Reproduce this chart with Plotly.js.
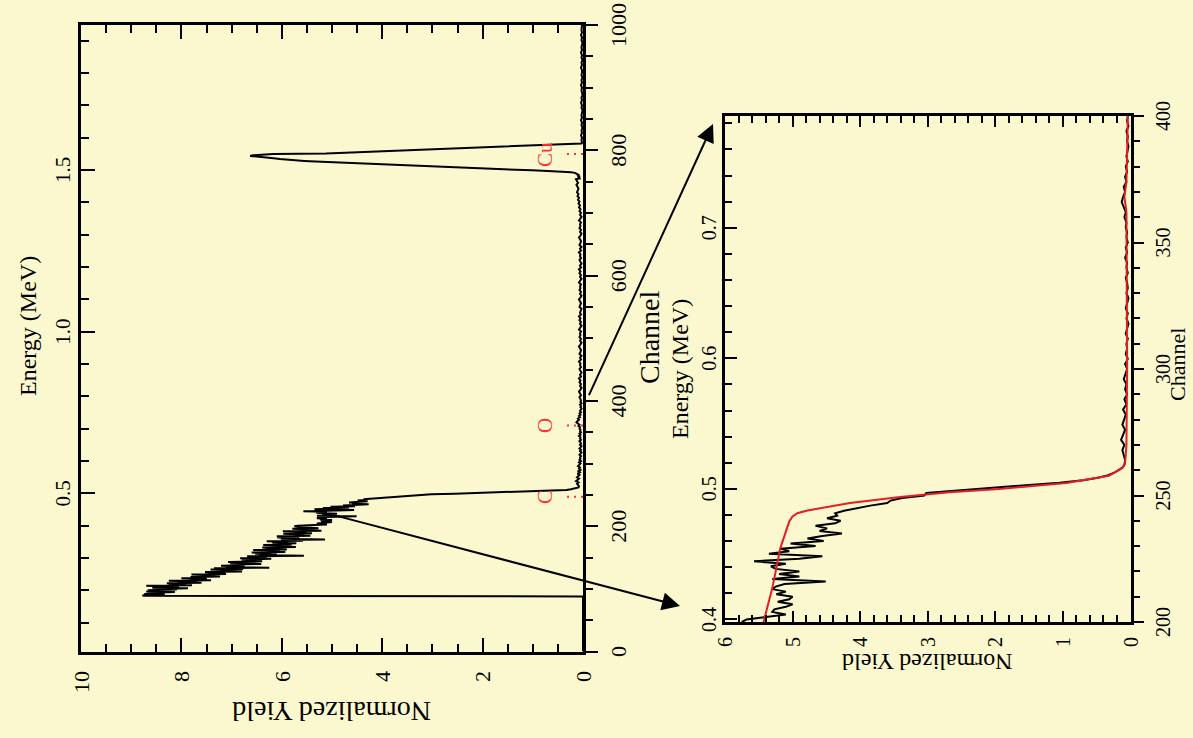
<!DOCTYPE html>
<html>
<head>
<meta charset="utf-8">
<script src="https://cdn.plot.ly/plotly-3.0.1.min.js"></script>
<style>
html, body { margin: 0; padding: 0; width: 1193px; height: 738px; overflow: hidden; background: #FBF8CF; }
#chart { position: absolute; left: 0; top: 0; width: 738px; height: 1193px;
         transform-origin: 0 0; transform: translate(0px, 738px) rotate(-90deg); }
</style>
</head>
<body>
<div id="chart"></div>
<script>
// ---------------- DATA ----------------
// Spectrum: normalized yield per channel
const lowChannels = [0, 88];
const lowYield = [0, 0];

// per-channel yields from channel 89 to 262
const mainStartCh = 89;
const mainYield = [
  8.77, 8.76, 8.33, 8.74, 8.36, 8.57, 8.13, 8.70, 8.31, 8.67,
  8.09, 8.40, 7.87, 8.58, 8.05, 8.21, 8.70, 7.79, 8.26, 7.92,
  8.29, 7.60, 8.07, 7.68, 8.25, 7.41, 7.83, 7.49, 8.00, 7.51,
  7.82, 7.23, 7.63, 7.44, 7.80, 7.11, 7.52, 7.13, 7.53, 6.79,
  7.25, 7.06, 7.42, 6.77, 7.35, 6.25, 7.12, 6.74, 7.21, 6.78,
  6.90, 6.41, 7.03, 6.60, 7.07, 6.39, 6.76, 6.58, 6.80, 6.21,
  6.83, 6.30, 6.52, 6.69, 5.56, 6.47, 6.10, 6.53, 6.21, 6.60,
  5.93, 6.31, 6.04, 6.57, 5.90, 6.33, 6.11, 6.39, 5.72, 6.21,
  5.94, 6.37, 5.80, 6.08, 5.71, 6.19, 5.87, 6.30, 5.58, 6.01,
  5.14, 6.02, 5.65, 6.09, 5.77, 6.10, 5.43, 5.81, 5.54, 5.97,
  5.40, 5.78, 5.51, 5.98, 5.21, 5.64, 5.46, 5.79, 5.27, 5.60,
  5.62,
  5.75, 5.68, 5.36, 5.10, 5.30, 5.27, 5.10, 5.00, 5.22, 5.05,
  5.00, 5.24, 5.10, 5.30, 5.25, 5.12, 4.51, 5.30, 4.90, 5.20,
  4.90, 5.25, 5.32, 5.10, 5.57, 4.90, 4.56, 5.35, 5.05, 5.18,
  4.66, 5.03, 4.54, 4.78, 4.56, 4.27, 4.60, 4.49, 4.66, 4.37,
  4.29, 4.49, 4.34, 4.37, 4.24, 4.05, 3.85, 3.60, 3.55, 3.38,
  3.05, 3.02, 2.55, 2.15, 1.60, 1.05, 0.70, 0.48, 0.33, 0.24,
  0.17, 0.12, 0.09
];

// background after the C/O edges, channels 264..400 every 2
const bgAStartCh = 264, bgAStep = 2;
const bgAYield = [
  0.08, 0.10, 0.12, 0.09, 0.14, 0.11, 0.08, 0.12, 0.10, 0.07,
  0.11, 0.06, 0.09, 0.05, 0.08, 0.06, 0.10, 0.07, 0.05, 0.08,
  0.04, 0.07, 0.05, 0.06, 0.04, 0.07, 0.05, 0.03, 0.06, 0.04,
  0.07, 0.05, 0.03, 0.06, 0.04, 0.05, 0.07, 0.04, 0.06, 0.05,
  0.08, 0.05, 0.07, 0.04, 0.06, 0.05, 0.07, 0.06, 0.09, 0.07,
  0.10, 0.13, 0.11, 0.08, 0.10, 0.06, 0.08, 0.05, 0.07, 0.04,
  0.06, 0.05, 0.03, 0.05, 0.04, 0.06, 0.03, 0.05, 0.04
];

// background channels 403..754 every 3
const bgBStartCh = 403, bgBStep = 3;
const bgBYield = [
  0.05, 0.07, 0.04, 0.06, 0.08, 0.05, 0.03, 0.06, 0.04, 0.07,
  0.05, 0.08, 0.04, 0.06, 0.03, 0.05, 0.07, 0.04, 0.06, 0.05,
  0.08, 0.04, 0.06, 0.03, 0.07, 0.05, 0.04, 0.06, 0.08, 0.05,
  0.03, 0.06, 0.04, 0.07, 0.05, 0.06, 0.04, 0.08, 0.05, 0.03,
  0.06, 0.04, 0.07, 0.05, 0.08, 0.04, 0.06, 0.05, 0.03, 0.07,
  0.05, 0.04, 0.06, 0.08, 0.05, 0.03, 0.06, 0.04, 0.07, 0.05,
  0.06, 0.04, 0.08, 0.05, 0.03, 0.06, 0.04, 0.07, 0.05, 0.08,
  0.04, 0.06, 0.03, 0.05, 0.07, 0.04, 0.06, 0.05, 0.08, 0.04,
  0.06, 0.03, 0.07, 0.05, 0.04, 0.06, 0.08, 0.05, 0.03, 0.06,
  0.04, 0.07, 0.05, 0.06, 0.04, 0.08, 0.05, 0.03, 0.06, 0.04,
  0.07, 0.05, 0.08, 0.06, 0.09, 0.07, 0.10, 0.08, 0.11, 0.09,
  0.12, 0.10, 0.09, 0.11, 0.13, 0.10, 0.12, 0.14
];

// Cu surface peak, channels 755..812
const cuStartCh = 755;
const cuYield = [
  0.07, 0.08, 0.06, 0.09, 0.08, 0.10, 0.09, 0.12, 0.13, 0.16,
  0.24, 0.39, 0.70, 1.02, 1.35, 1.66, 1.98, 2.30, 2.62, 2.95,
  3.31, 3.62, 3.93, 4.25, 4.55, 4.86, 5.10, 5.33, 5.55, 5.78,
  5.93, 6.04, 6.12, 6.25, 6.38, 6.50, 6.63, 6.58, 6.40, 6.17,
  5.12, 4.78, 4.45, 4.12, 3.78, 3.45, 3.12, 2.78, 2.45, 2.10,
  1.75, 1.42, 1.07, 0.72, 0.38, 0.06, 0.03, 0.02
];

// tail channels 816..1000 every 4
const tailStartCh = 816, tailStep = 4;
const tailYield = [
  0.03, 0.02, 0.04, 0.02, 0.03, 0.01, 0.03, 0.02, 0.04, 0.02,
  0.03, 0.02, 0.01, 0.03, 0.02, 0.04, 0.02, 0.03, 0.01, 0.02,
  0.03, 0.02, 0.04, 0.02, 0.03, 0.01, 0.03, 0.02, 0.02, 0.04,
  0.02, 0.03, 0.01, 0.03, 0.02, 0.04, 0.02, 0.03, 0.02, 0.01,
  0.03, 0.02, 0.04, 0.02, 0.03, 0.02, 0.02
];

// simulated fit (red) shown in the zoomed panel
const fitChannels = [200, 213.4, 229.3, 239.7, 241.7, 243.0, 244.1, 245.0, 247.0, 249.4,
                     251.3, 252.6, 254.9, 257.8, 260.9, 262.9, 270, 300, 340, 362, 368, 374, 385, 400];
const fitYield    = [5.43, 5.30, 5.18, 5.05, 5.00, 4.93, 4.78, 4.59, 4.15, 3.41,
                     2.68, 1.94, 0.95, 0.32, 0.12, 0.08, 0.06, 0.05, 0.05, 0.06, 0.09, 0.06, 0.05, 0.04];

// element surface edges
const elementNames = ['Cu', 'O', 'C'];
const elementChannels = [794, 361, 247];
const elementMarkYield = 0.42;   // length of dotted marker (yield units)
const elementLabelYield = 0.75;

// energy calibration (MeV) : E = E200 + (ch - 200) * slope
const energyAt200 = 0.398;
const energyPerChannel = 0.001938;
const energyOf = ch => energyAt200 + (ch - 200) * energyPerChannel;

// ---------------- BUILD ----------------
function seg(start, step, vals) { return vals.map((v, i) => start + i * step); }
const specCh = [].concat(lowChannels, seg(mainStartCh, 1, mainYield), seg(bgAStartCh, bgAStep, bgAYield),
                         seg(bgBStartCh, bgBStep, bgBYield), seg(cuStartCh, 1, cuYield), seg(tailStartCh, tailStep, tailYield));
const specY = [].concat(lowYield, mainYield, bgAYield, bgBYield, cuYield, tailYield);

const FONT = '"Liberation Serif", "Times New Roman", Times, serif';
const BLACK = '#000000';
const RED = '#e41e26';

const traces = [];
traces.push({ x: specCh, y: specY, xaxis: 'x', yaxis: 'y', type: 'scatter', mode: 'lines',
              line: { color: BLACK, width: 2 }, hoverinfo: 'skip' });
elementChannels.forEach((c, i) => {
  traces.push({ x: [c, c], y: [0, elementMarkYield], xaxis: 'x', yaxis: 'y', type: 'scatter', mode: 'lines',
                line: { color: '#ff3030', width: 2, dash: '2px,5px' }, hoverinfo: 'skip' });
});
traces.push({ x: specCh, y: specY, xaxis: 'x3', yaxis: 'y3', type: 'scatter', mode: 'lines',
              line: { color: BLACK, width: 2 }, hoverinfo: 'skip' });
traces.push({ x: fitChannels, y: fitYield, xaxis: 'x3', yaxis: 'y3', type: 'scatter', mode: 'lines',
              line: { color: RED, width: 2 }, hoverinfo: 'skip' });
// invisible carriers for energy axes
traces.push({ x: [energyOf(0), energyOf(1000)], y: [0, 0], xaxis: 'x2', yaxis: 'y', type: 'scatter',
              mode: 'lines', line: { width: 0 }, opacity: 0, hoverinfo: 'skip' });
traces.push({ x: [energyOf(200), energyOf(400)], y: [0, 0], xaxis: 'x4', yaxis: 'y3', type: 'scatter',
              mode: 'lines', line: { width: 0 }, opacity: 0, hoverinfo: 'skip' });

// Layout (drawn upright, page then rotated by 90 degrees counter-clockwise)
const W = 738, H = 1193;
const base = { showline: true, linecolor: BLACK, linewidth: 3, showgrid: false, zeroline: false,
               tickcolor: BLACK, tickwidth: 2, automargin: false, fixedrange: true, tickangle: 0 };
function ax(extra) { return Object.assign({}, base, extra); }
function minor(ticks, dtick, len) { return { ticks: ticks, dtick: dtick, ticklen: len, tickwidth: 2, tickcolor: BLACK, showgrid: false }; }

const mainX = [86.4 / W, 713 / W];
const mainY = [1 - 583 / H, 1 - 81 / H];
const insX = [116 / W, 622 / W];
const insY = [1 - 1130.5 / H, 1 - 725 / H];

const layout = {
  width: W, height: H,
  margin: { l: 0, r: 0, t: 0, b: 0, pad: 0 },
  paper_bgcolor: '#FBF8CF', plot_bgcolor: '#FBF8CF',
  showlegend: false, hovermode: false,
  font: { family: FONT, color: BLACK },
  xaxis: ax({ domain: mainX, range: [0, 1000], anchor: 'y', side: 'bottom', mirror: true,
              ticks: 'outside', ticklen: 12, dtick: 200, tick0: 0, minor: minor('outside', 50, 7),
              tickfont: { family: FONT, size: 22, color: BLACK }, ticklabelstandoff: 2 }),
  xaxis2: ax({ overlaying: 'x', anchor: 'y', side: 'top', showline: false,
               range: [energyOf(0), energyOf(1000)], ticks: 'inside', ticklen: 14, dtick: 0.5, tick0: 0,
               tickformat: '.1f', minor: minor('inside', 0.1, 8),
               tickfont: { family: FONT, size: 21, color: BLACK }, ticklabelstandoff: 6 }),
  yaxis: ax({ domain: mainY, range: [0, 10], anchor: 'x', side: 'left', mirror: 'ticks',
              ticks: 'inside', ticklen: 14, dtick: 2, tick0: 0, minor: minor('inside', 0.5, 8),
              tickfont: { family: FONT, size: 22, color: BLACK }, ticklabelstandoff: 12 }),
  xaxis3: ax({ domain: insX, range: [200, 400], anchor: 'y3', side: 'bottom', mirror: true,
               ticks: 'outside', ticklen: 10, dtick: 50, tick0: 0, minor: minor('outside', 10, 6),
               tickfont: { family: FONT, size: 20, color: BLACK }, ticklabelstandoff: 2 }),
  xaxis4: ax({ overlaying: 'x3', anchor: 'y3', side: 'top', showline: false,
               range: [energyOf(200), energyOf(400)], ticks: 'inside', ticklen: 12, dtick: 0.1, tick0: 0,
               tickformat: '.1f', minor: minor('inside', 0.02, 7),
               tickfont: { family: FONT, size: 20, color: BLACK }, ticklabelstandoff: 4 }),
  yaxis3: ax({ domain: insY, range: [0, 6], anchor: 'x3', side: 'left', mirror: 'ticks',
               ticks: 'inside', ticklen: 11, dtick: 1, tick0: 0, minor: minor('inside', 0.2, 7),
               tickfont: { family: FONT, size: 20, color: BLACK }, ticklabelstandoff: 8 }),
  annotations: []
};

function title(text, px, py, size, angle) {
  layout.annotations.push({ text: text, xref: 'paper', yref: 'paper', x: px / W, y: 1 - py / H,
    xanchor: 'center', yanchor: 'middle', showarrow: false, textangle: angle || 0,
    font: { family: FONT, size: size, color: BLACK } });
}
title('Normalized Yield', 26, 332, 28, -90);
title('Channel', 400.5, 650, 28);
title('Energy (MeV)', 412, 28, 24);
title('Normalized Yield', 76, 927.5, 24, -90);
title('Channel', 373, 1177, 22);
title('Energy (MeV)', 369, 680, 24);

elementNames.forEach((n, i) => {
  layout.annotations.push({ text: n, xref: 'x', yref: 'y', x: elementChannels[i], y: elementLabelYield,
    xanchor: 'center', yanchor: 'middle', showarrow: false,
    font: { family: FONT, size: 21, color: '#ff3030' } });
});

// zoom arrows (tip in paper, tail offset in px)
function arrow(tipPx, tipPy, tailPx, tailPy) {
  layout.annotations.push({ text: '', xref: 'paper', yref: 'paper', x: tipPx / W, y: 1 - tipPy / H,
    axref: 'pixel', ayref: 'pixel', ax: tailPx - tipPx, ay: tailPy - tipPy,
    showarrow: true, arrowhead: 2, arrowsize: 1.8, arrowwidth: 2, arrowcolor: BLACK, standoff: 0 });
}
arrow(614, 713, 341.3, 588.3);
arrow(132, 680, 223, 333.3);

Plotly.newPlot('chart', traces, layout, { displayModeBar: false, staticPlot: true });
</script>
</body>
</html>
